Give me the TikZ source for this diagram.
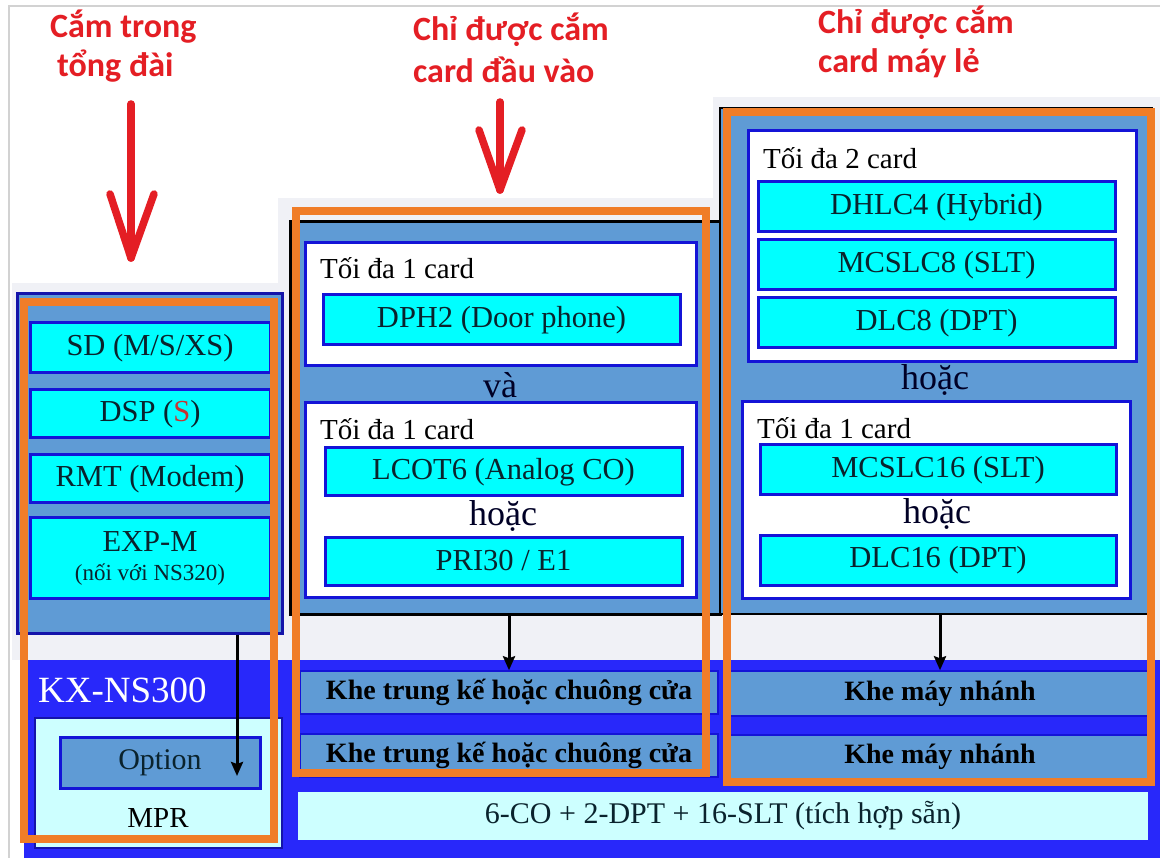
\documentclass[tikz,border=0pt]{standalone}
\usepackage{fontspec}
\setmainfont{Liberation Serif}
\newfontfamily\serifcard{Liberation Serif}
\newfontfamily\lblfont{Carlito}
\usetikzlibrary{arrows.meta}
\definecolor{panelblue}{RGB}{95,155,213}
\definecolor{cardblue}{RGB}{20,20,215}
\definecolor{darkblue}{RGB}{20,20,170}
\definecolor{busblue}{RGB}{40,40,250}
\definecolor{cardcyan}{RGB}{0,255,255}
\definecolor{lightcyan}{RGB}{205,255,255}
\definecolor{frameorange}{RGB}{240,125,40}
\definecolor{bggray}{RGB}{240,241,246}
\definecolor{lblred}{RGB}{228,30,36}
\definecolor{sred}{RGB}{200,50,50}
\definecolor{cardtext}{RGB}{10,35,45}
\newcommand\cardsize{\serifcard\fontsize{30.5}{35}\selectfont}
\newcommand\labsize{\serifcard\fontsize{29}{34}\selectfont}
\newcommand\bigsize{\serifcard\fontsize{36}{40}\selectfont}
\newcommand\slotsize{\serifcard\bfseries\fontsize{28}{32}\selectfont}
\newcommand\lblsize{\lblfont\bfseries\fontsize{34}{40}\selectfont}
\begin{document}
\begin{tikzpicture}[x=1pt,y=-1pt,
  wh/.style 2 args={rectangle, minimum width=#1pt, minimum height=#2pt, inner sep=0pt},
  card/.style={draw=cardblue, fill=cardcyan, line width=3pt, font=\cardsize, text=cardtext},
  wbox/.style={draw=cardblue, fill=white, line width=3pt},
  panel/.style={fill=panelblue, line width=3pt},
  slotbox/.style={draw=cardblue, fill=panelblue, line width=1.5pt, font=\slotsize, text=black},
  lbox/.style={fill=lightcyan},
  oframe/.style={draw=frameorange, line width=8pt},
  txt/.style={font=\labsize, inner sep=0pt, text=black},
  bigtxt/.style={font=\bigsize, inner sep=0pt, text=black!85!blue},
  redlbl/.style={font=\lblsize, text=lblred, inner sep=0pt, anchor=west},
  redarrow/.style={draw=lblred, line width=7.5pt, line cap=round, line join=round},
  blkarrow/.style={draw=black, line width=3pt, -{Stealth[length=14pt,width=12pt,inset=2pt]}}
]
\useasboundingbox (0,0) rectangle (1160,858);
\fill[white] (0,0) rectangle (1160,858);
\draw[gray!35, line width=1.2pt] (9,858) -- (9,6) -- (1160,6);
% gray areas
\fill[bggray] (12,283) rectangle (290,660);
\fill[bggray] (278,198) rectangle (727,660);
\fill[bggray] (713,97) rectangle (1160,660);

% left panel
\node[panel, draw=darkblue, wh={265}{339}] (lp) at (149.5,463.5) {};
\node[card, wh={240}{50}] (sd) at (150,348) {SD (M/S/XS)};
\node[card, wh={240}{48}] (dsp) at (150,414) {DSP (\textcolor{sred}{S})};
\node[card, wh={240}{48}] (rmt) at (150,479) {RMT (Modem)};
\node[card, wh={240}{80}, align=center] (exp) at (150,558) {EXP-M\\[-6pt]\serifcard\fontsize{23}{26}\selectfont(nối với NS320)};

% middle panel
\node[panel, draw=black, wh={430}{392}] (mp) at (505,418) {};
\node[wbox, wh={391}{123}] (mw1) at (500.5,304.5) {};
\node[txt, anchor=west] (mw1t) at (320,268) {Tối đa 1 card};
\node[card, wh={357}{50}] (dph) at (501.5,320) {DPH2 (Door phone)};
\node[bigtxt] (va) at (500,385) {và};
\node[wbox, wh={391}{194}] (mw2) at (500.5,500) {};
\node[txt, anchor=west] (mw2t) at (320,429) {Tối đa 1 card};
\node[card, wh={357}{48}] (lcot) at (503.5,472) {LCOT6 (Analog CO)};
\node[bigtxt] (mhoac) at (503,516) {hoặc};
\node[card, wh={357}{48}] (pri) at (503.5,561) {PRI30 / E1};

% right panel
\node[panel, draw=black, line width=2pt, wh={432}{506}] (rp) at (936,361) {};
\node[wbox, wh={388}{231}] (rw1) at (942,246.5) {};
\node[txt, anchor=west] (rw1t) at (763,158) {Tối đa 2 card};
\node[card, wh={357}{50}] (dhlc) at (936.5,207) {DHLC4 (Hybrid)};
\node[card, wh={357}{50}] (mcslc8) at (936.5,265) {MCSLC8 (SLT)};
\node[card, wh={357}{50}] (dlc8) at (936.5,323) {DLC8 (DPT)};
\node[bigtxt] (rhoac1) at (935,380) {hoặc};
\node[wbox, wh={388}{196}] (rw2) at (936,500) {};
\node[txt, anchor=west] (rw2t) at (757,428) {Tối đa 1 card};
\node[card, wh={356}{50}] (mcslc16) at (938,470) {MCSLC16 (SLT)};
\node[bigtxt] (rhoac2) at (937,514) {hoặc};
\node[card, wh={356}{50}] (dlc16) at (938,560) {DLC16 (DPT)};

% bus
\node[fill=busblue, wh={1136}{198}] (bus) at (592,759) {};
\node[font={\serifcard\fontsize{37}{40}\selectfont}, text=white, inner sep=0pt, anchor=west] (kx) at (38,690) {KX-NS300};
\node[lbox, draw=darkblue, line width=2pt, wh={247}{130}] (mpr) at (158.5,783) {};
\node[fill=panelblue, draw=cardblue, line width=3pt, wh={200}{51}, font={\serifcard\fontsize{30}{34}\selectfont}, text=cardtext] (opt) at (160,762.5) {Option};
\node[font={\serifcard\fontsize{29}{34}\selectfont}, inner sep=0pt] (mprt) at (158,818) {MPR};
\node[slotbox, wh={418}{43}] (m1) at (509,692.5) {Khe trung kế hoặc chuông cửa};
\node[slotbox, wh={418}{43}] (m2) at (509,755.5) {Khe trung kế hoặc chuông cửa};
\node[slotbox, wh={420}{45}] (r1) at (940,693.5) {Khe máy nhánh};
\node[slotbox, wh={420}{44}] (r2) at (940,757) {Khe máy nhánh};
\node[lbox, wh={850}{48}, font={\serifcard\fontsize{30}{34}\selectfont}, text=cardtext] (integ) at (723,816) {6-CO + 2-DPT + 16-SLT (tích hợp sẵn)};

% orange frames
\draw[oframe] (24,302) rectangle (274,839);
\draw[oframe] (296,211) rectangle (706,773);
\draw[oframe] (727,112) rectangle (1151,782);

% black arrows
\coordinate (optend) at (237,776);
\draw[blkarrow] (lp.south -| optend) -- (optend);
\draw[blkarrow] (m1.north |- mp.south) -- (m1.north);
\draw[blkarrow] (r1.north |- rp.south) -- (r1.north);

% red labels
\node[redlbl] (l1a) at (50,27) {Cắm trong};
\node[redlbl] (l1b) at (57,66) {tổng đài};
\node[redlbl] (l2a) at (413,30) {Chỉ được cắm};
\node[redlbl] (l2b) at (413,70) {card đầu vào};
\node[redlbl] (l3a) at (818,23) {Chỉ được cắm};
\node[redlbl] (l3b) at (818,63) {card máy lẻ};

% red arrows
\coordinate (a1s) at (131,104);
\coordinate (a1t) at (131,258);
\draw[redarrow] (a1s) -- (a1t);
\draw[redarrow] (110,194) -- (a1t) -- (154,194);
\coordinate (a2s) at (500,102);
\coordinate (a2t) at (500,190);
\draw[redarrow] (a2s) -- (a2t);
\draw[redarrow] (479,130) -- (a2t) -- (522,130);
\end{tikzpicture}
\end{document}
